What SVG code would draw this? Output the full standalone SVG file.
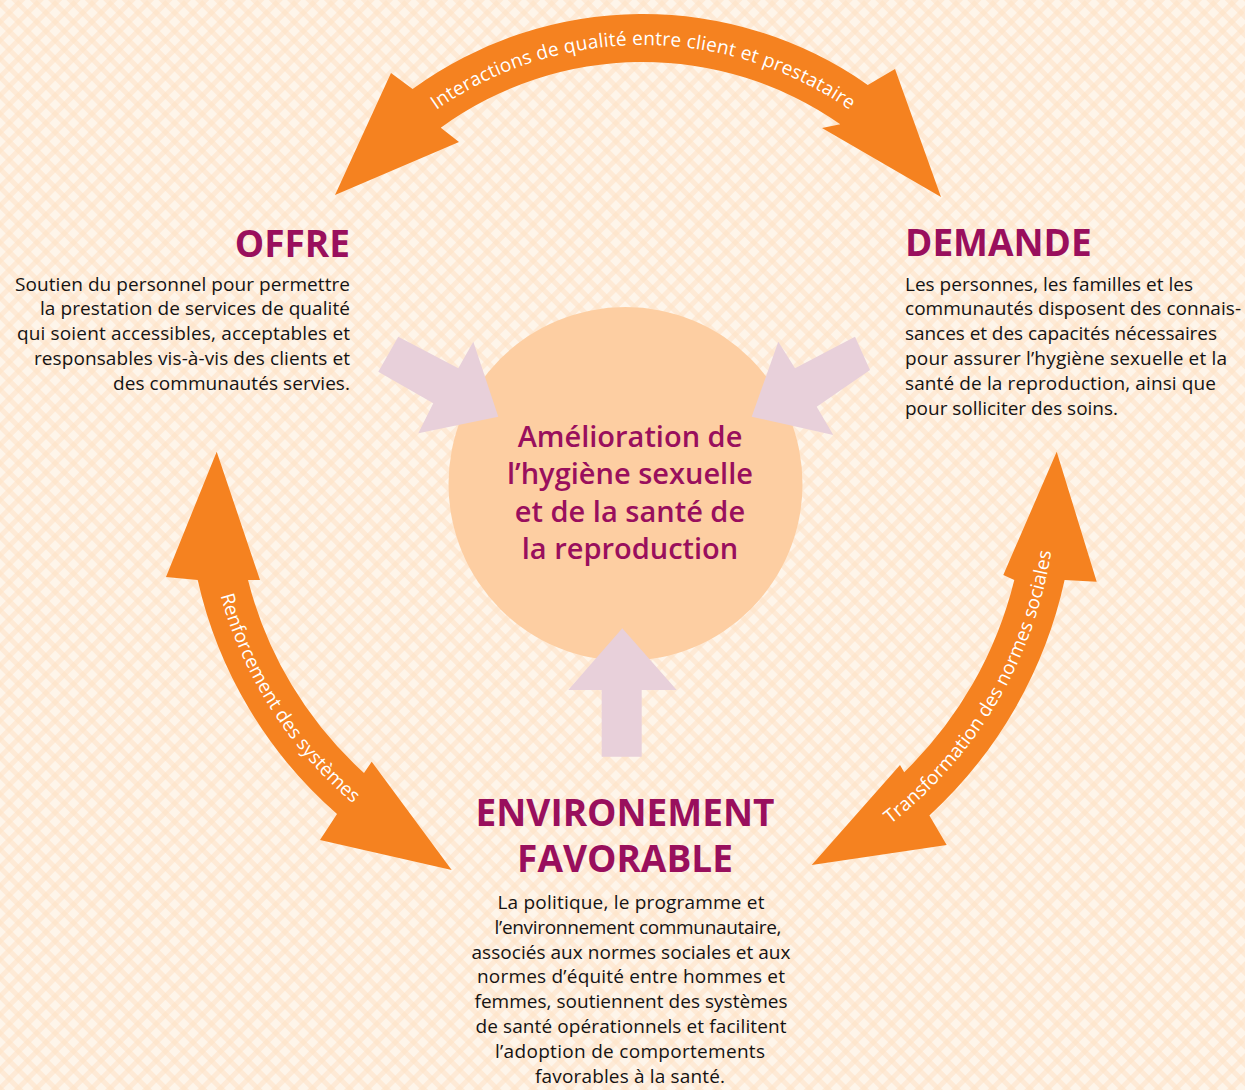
<svg xmlns="http://www.w3.org/2000/svg" width="1245" height="1090" viewBox="0 0 1245 1090">
<defs>
<pattern id="bgpat" width="13" height="13" patternUnits="userSpaceOnUse" patternTransform="rotate(45)">
<rect width="13" height="13" fill="#fef5ea"/>
<rect width="13" height="5" fill="#fde2c4" opacity="0.55"/>
<rect width="5" height="13" fill="#fde2c4" opacity="0.55"/>
</pattern>
<path id="tpTop" d="M 420.7,121.5 A 361 361 0 0 1 865.3,121.5"/>
<path id="tpLeft" d="M 211.9,556.8 A 419.5 419.5 0 0 0 384.4,827.6"/>
<path id="tpRight" d="M 860,845.9 A 431.5 431.5 0 0 0 1055.5,514.1"/>
</defs>
<style>
.band{fill:#f58220}
.pink{fill:#e8d0da}
.lbl{font-family:"Open Sans","Noto Sans","DejaVu Sans",sans-serif;font-size:19px;fill:#ffffff}
.title{font-family:"Open Sans","Noto Sans","DejaVu Sans",sans-serif;font-size:37px;font-weight:bold;fill:#990f5d}
.body{font-family:"Open Sans","Noto Sans","DejaVu Sans",sans-serif;font-size:19px;fill:#151313}
.center{font-family:"Open Sans","Noto Sans","DejaVu Sans",sans-serif;font-size:29px;font-weight:600;fill:#990f5d;text-anchor:middle}
</style>
<rect width="1245" height="1090" fill="url(#bgpat)"/>

<g id="node-center">
<circle cx="625.5" cy="484" r="177" fill="#fdcea2"/>
</g>

<g id="connectors">
<path class="band" d="M 412.6,88.9 A 392 392 0 0 1 867.8,84.9 L 895,69 L 941,197 L 822,128 L 840.3,124.2 A 344 344 0 0 0 440.8,127.7 L 459,142 L 335,195 L 391,73 Z"/>
<path class="band" d="M 197.7,580 A 438 438 0 0 0 337,814 L 320,840 L 451.7,870 L 371.7,761.7 L 364,773 A 389 389 0 0 1 248,580 L 260,580 L 216.7,451.7 L 166,577 Z"/>
<path class="band" d="M 1064.6,580 A 450 450 0 0 1 929.4,815.4 L 946.7,845 L 811.7,865 L 900,765 L 904.2,772.2 A 401 401 0 0 0 1014.3,580 L 1003.3,575 L 1056.7,451.7 L 1096.7,581.7 Z"/>
<text class="lbl"><textPath href="#tpTop" startOffset="50%" text-anchor="middle" textLength="440" lengthAdjust="spacing">Interactions de qualité entre client et prestataire</textPath></text>
<text class="lbl"><textPath href="#tpLeft" startOffset="50%" text-anchor="middle" textLength="250" lengthAdjust="spacing">Renforcement des systèmes</textPath></text>
<text class="lbl"><textPath href="#tpRight" startOffset="50%" text-anchor="middle" textLength="324" lengthAdjust="spacing">Transformation des normes sociales</textPath></text>
<polygon class="pink" points="398.3,336.7 458.3,368.3 473.3,341.7 498.3,416.7 418.3,433.3 433.3,403.3 378.3,371.7"/>
<polygon class="pink" points="855,336.7 795,368.3 778.3,341.7 751.7,416.7 833.3,435 816.7,406.7 870,370"/>
<polygon class="pink" points="601.7,756.7 601.7,690 568.3,690 622.3,628.3 676.7,690 641.7,690 641.7,756.7"/>
</g>

<g id="node-center-label">
<text class="center" x="630" y="446.5">Amélioration de</text>
<text class="center" x="630" y="484">l’hygiène sexuelle</text>
<text class="center" x="630" y="521.5">et de la santé de</text>
<text class="center" x="630" y="559">la reproduction</text>
</g>

<g id="node-offre">
<text class="title" x="350" y="256.5" text-anchor="end">OFFRE</text>
<g class="body" text-anchor="end">
<text x="350" y="290.5" textLength="335" lengthAdjust="spacing">Soutien du personnel pour permettre</text>
<text x="350" y="315.3" textLength="310" lengthAdjust="spacing">la prestation de services de qualité</text>
<text x="350" y="340.1" textLength="333" lengthAdjust="spacing">qui soient accessibles, acceptables et</text>
<text x="350" y="364.9" textLength="316" lengthAdjust="spacing">responsables vis-à-vis des clients et</text>
<text x="350" y="389.7" textLength="237" lengthAdjust="spacing">des communautés servies.</text>
</g>
</g>

<g id="node-demande">
<text class="title" x="905" y="255.5">DEMANDE</text>
<g class="body">
<text x="905" y="290.5" textLength="288" lengthAdjust="spacing">Les personnes, les familles et les</text>
<text x="905" y="315.3" textLength="336" lengthAdjust="spacing">communautés disposent des connais-</text>
<text x="905" y="340.1" textLength="312" lengthAdjust="spacing">sances et des capacités nécessaires</text>
<text x="905" y="364.9" textLength="322" lengthAdjust="spacing">pour assurer l’hygiène sexuelle et la</text>
<text x="905" y="389.7" textLength="311" lengthAdjust="spacing">santé de la reproduction, ainsi que</text>
<text x="905" y="414.5" textLength="213" lengthAdjust="spacing">pour solliciter des soins.</text>
</g>
</g>

<g id="node-environnement">
<text class="title" x="625" y="826" text-anchor="middle">ENVIRONEMENT</text>
<text class="title" x="625" y="871.5" text-anchor="middle">FAVORABLE</text>
<g class="body" text-anchor="middle">
<text x="631" y="909" textLength="267" lengthAdjust="spacing">La politique, le programme et</text>
<text x="638" y="933.8" textLength="287" lengthAdjust="spacing">l’environnement communautaire,</text>
<text x="631" y="958.6" textLength="319" lengthAdjust="spacing">associés aux normes sociales et aux</text>
<text x="631" y="983.4" textLength="308" lengthAdjust="spacing">normes d’équité entre hommes et</text>
<text x="631" y="1008.2" textLength="313" lengthAdjust="spacing">femmes, soutiennent des systèmes</text>
<text x="631" y="1033" textLength="311" lengthAdjust="spacing">de santé opérationnels et facilitent</text>
<text x="630" y="1057.8" textLength="270" lengthAdjust="spacing">l’adoption de comportements</text>
<text x="630" y="1082.6" textLength="190" lengthAdjust="spacing">favorables à la santé.</text>
</g>
</g>
</svg>
